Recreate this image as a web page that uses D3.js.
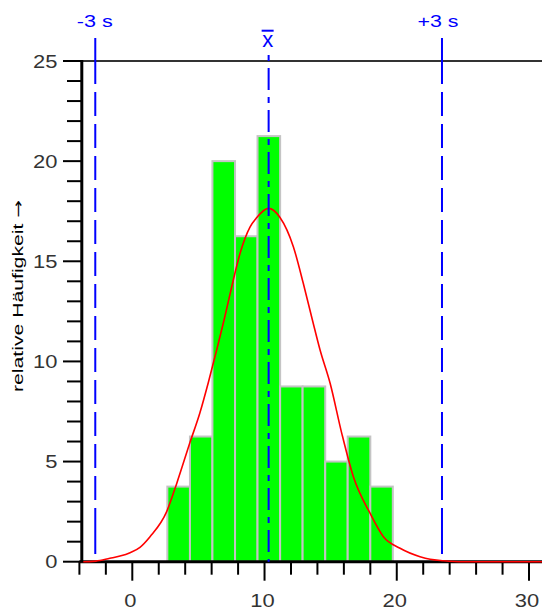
<!DOCTYPE html>
<html>
<head>
<meta charset="utf-8">
<script src="https://cdn.jsdelivr.net/npm/d3@7"></script>
<style>
  body { margin: 0; background: #fff; }
  text { font-family: "Liberation Sans", Arial, sans-serif; }
</style>
</head>
<body>
<svg id="chart" width="542" height="609"></svg>
<script>
// Klassengrenzen und relative Häufigkeiten (%)
const binEdges = [2.65, 4.36, 6.06, 7.77, 9.47, 11.18, 12.88, 14.59, 16.29, 18.0, 19.7];
const relFreq = [3.75, 6.25, 20, 16.25, 21.25, 8.75, 8.75, 5, 6.25, 3.75];

// Normalverteilung
const curveX = [-4, -3.7, -2.75, -1.7, -0.93, -0.17, 0.58, 1.34, 2.6, 3.36, 4.36, 5.12, 5.75, 6.38, 6.94, 7.52, 8.15, 8.91, 9.36, 10.29,
  11.17, 12.18, 12.93, 13.62, 14.2, 14.96, 15.84, 16.72, 17.98, 18.99, 20.25, 21.76, 22.52, 23.53, 25, 32];
const curveY = [0, 0, 0.03, 0.17, 0.28, 0.45, 0.72, 1.25, 2.5, 3.91, 5.95, 7.45, 8.95, 10.57, 12.07, 13.73, 15.4, 16.72, 17.14, 17.64,
  17.19, 15.73, 13.9, 12.07, 10.57, 8.91, 6.41, 4.24, 2.42, 1.25, 0.67, 0.25, 0.12, 0.05, 0, 0];

const mean = 10.31;
const sd = 4.37;

const xMajor = [0, 10, 20, 30];
const xMinor = [-4, -2, 2, 4, 6, 8, 12, 14, 16, 18, 22, 24, 26, 28, 32];
const yMajor = [0, 5, 10, 15, 20, 25];
const yMinor = [1, 2, 3, 4, 6, 7, 8, 9, 11, 12, 13, 14, 16, 17, 18, 19, 21, 22, 23, 24];

const svg = d3.select('#chart');

const x = d3.scaleLinear().domain([0, 30]).range([132.3, 529]);
const y = d3.scaleLinear().domain([0, 25]).range([561.7, 61]);

const x0 = x(-4);
const right = 542;
const labelColor = '#333';

// obere Linie bei 25
svg.append('line')
  .attr('x1', 63).attr('x2', right)
  .attr('y1', y(25)).attr('y2', y(25))
  .attr('stroke', '#333').attr('stroke-width', 2);

// Balken
svg.append('g').selectAll('rect')
  .data(relFreq)
  .join('rect')
  .attr('x', (d, i) => x(binEdges[i]))
  .attr('width', (d, i) => x(binEdges[i + 1]) - x(binEdges[i]))
  .attr('y', d => y(d))
  .attr('height', d => y(0) - y(d))
  .attr('fill', '#00ff00')
  .attr('stroke', '#c4c4c4')
  .attr('stroke-width', 2);

// x-Achse (dicke Grundlinie)
svg.append('line')
  .attr('x1', x0).attr('x2', right)
  .attr('y1', y(0)).attr('y2', y(0))
  .attr('stroke', '#000').attr('stroke-width', 3);

// x-Ticks
svg.append('g').selectAll('line')
  .data(xMinor)
  .join('line')
  .attr('x1', d => x(d)).attr('x2', d => x(d))
  .attr('y1', y(0)).attr('y2', y(0) + 13)
  .attr('stroke', '#000').attr('stroke-width', 2);

svg.append('g').selectAll('line')
  .data(xMajor)
  .join('line')
  .attr('x1', d => x(d)).attr('x2', d => x(d))
  .attr('y1', y(0)).attr('y2', y(0) + 19)
  .attr('stroke', '#000').attr('stroke-width', 2);

svg.append('g').selectAll('text')
  .data(xMajor)
  .join('text')
  .attr('x', d => x(d) - 2)
  .attr('y', 606.5)
  .attr('text-anchor', 'middle')
  .attr('font-size', 18.5)
  .attr('fill', labelColor)
  .attr('textLength', d => String(d).length * 12.2)
  .attr('lengthAdjust', 'spacingAndGlyphs')
  .text(d => d);

// Normalverteilungskurve
const line = d3.line()
  .curve(d3.curveMonotoneX)
  .x(d => x(d[0]))
  .y(d => y(d[1]));

svg.append('path')
  .datum(curveX.map((v, i) => [v, curveY[i]]))
  .attr('d', line)
  .attr('fill', 'none')
  .attr('stroke', '#ff0000')
  .attr('stroke-width', 1.6);

// Mittelwert und +-3s
const blue = '#0000ff';
const lo = mean - 3 * sd;
const hi = mean + 3 * sd;
const sDash = '46,8,24,8,24,8,24,8,24,8,24,8,24,8,24,8,24,8,24,8,24,8,24,8,24,8,24,8';

svg.append('line')
  .attr('x1', x(lo)).attr('x2', x(lo))
  .attr('y1', 38).attr('y2', y(0))
  .attr('stroke', blue).attr('stroke-width', 2)
  .attr('stroke-dasharray', sDash);

svg.append('line')
  .attr('x1', x(hi)).attr('x2', x(hi))
  .attr('y1', 38).attr('y2', y(0))
  .attr('stroke', blue).attr('stroke-width', 2)
  .attr('stroke-dasharray', sDash);

svg.append('line')
  .attr('x1', x(mean)).attr('x2', x(mean))
  .attr('y1', 55).attr('y2', y(0))
  .attr('stroke', blue).attr('stroke-width', 2)
  .attr('stroke-dasharray', '6,7,22,7');

svg.append('text')
  .attr('x', x(lo) - 0.5).attr('y', 26.5)
  .attr('text-anchor', 'middle')
  .attr('font-size', 16.5).attr('fill', blue)
  .attr('textLength', 36).attr('lengthAdjust', 'spacingAndGlyphs')
  .text('-3 s');

svg.append('text')
  .attr('x', x(hi) - 4).attr('y', 26.5)
  .attr('text-anchor', 'middle')
  .attr('font-size', 16.5).attr('fill', blue)
  .attr('textLength', 41).attr('lengthAdjust', 'spacingAndGlyphs')
  .text('+3 s');

// x mit Querstrich
svg.append('text')
  .attr('x', x(mean) - 1).attr('y', 47)
  .attr('text-anchor', 'middle')
  .attr('font-size', 22).attr('fill', blue)
  .text('x');

svg.append('line')
  .attr('x1', x(mean) - 7).attr('x2', x(mean) + 5)
  .attr('y1', 30.7).attr('y2', 30.7)
  .attr('stroke', blue).attr('stroke-width', 2);

// y-Achse
svg.append('line')
  .attr('x1', 81.8).attr('x2', 81.8)
  .attr('y1', y(25) - 1).attr('y2', y(0) + 1)
  .attr('stroke', '#000').attr('stroke-width', 3);

svg.append('g').selectAll('line')
  .data(yMinor)
  .join('line')
  .attr('x1', 67).attr('x2', 81)
  .attr('y1', d => y(d)).attr('y2', d => y(d))
  .attr('stroke', '#000').attr('stroke-width', 2);

svg.append('g').selectAll('line')
  .data(yMajor)
  .join('line')
  .attr('x1', 63).attr('x2', 81)
  .attr('y1', d => y(d)).attr('y2', d => y(d))
  .attr('stroke', '#000').attr('stroke-width', 2);

svg.append('g').selectAll('text')
  .data(yMajor)
  .join('text')
  .attr('x', 57.5)
  .attr('y', d => y(d))
  .attr('dy', '0.36em')
  .attr('text-anchor', 'end')
  .attr('font-size', 18.5)
  .attr('fill', labelColor)
  .attr('textLength', d => String(d).length * 12.2)
  .attr('lengthAdjust', 'spacingAndGlyphs')
  .text(d => d);

const yTitle = svg.append('text')
  .attr('transform', 'translate(23,296) rotate(-90)')
  .attr('text-anchor', 'middle')
  .attr('font-size', 14.5)
  .attr('fill', '#000')
  .attr('textLength', 192)
  .attr('lengthAdjust', 'spacingAndGlyphs');

yTitle.append('tspan').text('relative Häufigkeit ');
yTitle.append('tspan')
  .style('font-family', '"DejaVu Sans", sans-serif')
  .text('\u2192');
</script>
</body>
</html>
